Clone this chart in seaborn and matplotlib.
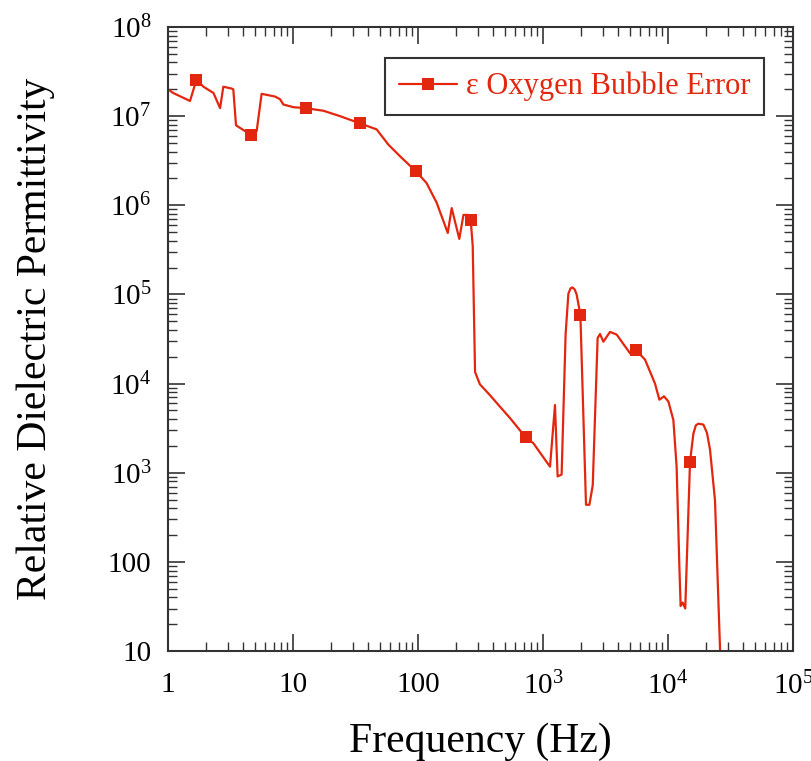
import numpy as np
import pandas as pd
import seaborn as sns
import matplotlib.pyplot as plt
from matplotlib.ticker import FuncFormatter, LogLocator, NullFormatter

# values (Hz, relative permittivity)
freq = [1.0, 1.10, 1.50, 1.69, 1.92, 2.31, 2.61, 2.77, 3.23, 3.33,
        3.50, 4.13, 4.61, 5.12, 5.61, 7.18, 7.87, 8.38, 10.1, 12.6,
        17.5, 23.8, 34.4, 46.7, 57.9, 71.8, 96.4, 117, 141, 173,
        186, 214, 231, 253, 264, 274, 286, 313, 377, 453,
        545, 726, 838, 1070, 1138, 1247, 1309, 1409, 1517, 1596,
        1660, 1718, 1790, 1858, 1991, 2208, 2350, 2500, 2735, 2858,
        3041, 3436, 3882, 4966, 5508, 6546, 7870, 8531, 9290, 10070,
        11040, 11720, 12330, 12620, 13090, 13740, 15000, 15960, 16700, 17500,
        19190, 20500, 21680, 23770, 25290, 26900]
eps = [2.0e7, 1.82e7, 1.48e7, 2.57e7, 2.14e7, 1.82e7, 1.23e7, 2.14e7, 2.04e7, 2.0e7,
       7.9e6, 6.8e6, 6.2e6, 6.8e6, 1.78e7, 1.66e7, 1.55e7, 1.35e7, 1.26e7, 1.23e7,
       1.15e7, 1.0e7, 8.3e6, 7.1e6, 4.8e6, 3.55e6, 2.4e6, 1.78e6, 1.07e6, 4.9e5,
       9.3e5, 4.2e5, 7.8e5, 7.8e5, 6.8e5, 3.5e5, 1.35e4, 9.8e3, 7.4e3, 5.5e3,
       4.1e3, 2.5e3, 2.14e3, 1.32e3, 1.17e3, 5.75e3, 910, 955, 3.6e4, 1.02e5,
       1.17e5, 1.2e5, 1.14e5, 1.0e5, 5.9e4, 437, 437, 724, 3.24e4, 3.6e4,
       2.95e4, 3.8e4, 3.55e4, 2.19e4, 2.4e4, 1.86e4, 1.0e4, 6.6e3, 7.2e3, 6.3e3,
       3.9e3, 1.17e3, 89, 32, 35, 30, 1.32e3, 2.75e3, 3.4e3, 3.55e3,
       3.47e3, 2.8e3, 1.82e3, 490, 37, 3]
marker_idx = [3, 12, 19, 22, 26, 34, 41, 54, 64, 76]

df = pd.DataFrame({"Frequency": freq, "Eps": eps})

sns.set_style("white")
plt.rcParams['font.family'] = ['Liberation Serif', 'DejaVu Serif']
plt.rcParams['mathtext.fontset'] = 'custom'
plt.rcParams['mathtext.rm'] = 'Liberation Serif'
plt.rcParams['mathtext.it'] = 'Liberation Serif:italic'
plt.rcParams['text.color'] = 'black'
plt.rcParams['axes.labelcolor'] = 'black'

red = "#e3260e"

fig = plt.figure(figsize=(8.12, 7.61), dpi=100)
ax = fig.add_axes([0.2069, 0.1445, 0.7697, 0.820])

sns.lineplot(data=df, x="Frequency", y="Eps", sort=False, ax=ax,
             color=red, linewidth=1.6, marker="s", markersize=8.5,
             markevery=marker_idx, markeredgewidth=0,
             label="ε Oxygen Bubble Error")

ax.set_xscale("log")
ax.set_yscale("log")
ax.set_xlim(1, 1e5)
ax.set_ylim(10, 1e8)


def fmt(v, pos):
    if v <= 100:
        return "%d" % round(v)
    return r"$10^{%d}$" % round(np.log10(v))


ax.xaxis.set_major_formatter(FuncFormatter(fmt))
ax.yaxis.set_major_formatter(FuncFormatter(fmt))
ax.xaxis.set_minor_locator(LogLocator(base=10, subs=np.arange(2, 10), numticks=20))
ax.yaxis.set_minor_locator(LogLocator(base=10, subs=np.arange(2, 10), numticks=20))
ax.xaxis.set_minor_formatter(NullFormatter())
ax.yaxis.set_minor_formatter(NullFormatter())

ax.tick_params(which="both", direction="in", top=True, right=True,
               bottom=True, left=True,
               colors="#333333", labelcolor="black", labelsize=21)
ax.tick_params(which="major", length=12, width=1.2)
ax.tick_params(which="minor", length=6.5, width=1.0)
ax.tick_params(axis="x", pad=15)
ax.tick_params(axis="y", pad=12)

for s in ax.spines.values():
    s.set_color("#333333")
    s.set_linewidth(1.5)

ax.set_xlabel("Frequency (Hz)", fontsize=30, labelpad=16)
ax.set_ylabel("Relative Dielectric Permittivity", fontsize=30, labelpad=38)

leg = ax.legend(loc="upper right", bbox_to_anchor=(0.954, 0.950),
                borderaxespad=0, fontsize=22, frameon=True, fancybox=False,
                handlelength=1.9, handletextpad=0.3, borderpad=0.45,
                numpoints=1)
leg.get_frame().set_edgecolor("black")
leg.get_frame().set_linewidth(1.5)
for t in leg.get_texts():
    t.set_color(red)

fig.savefig("out.png", dpi=100)
